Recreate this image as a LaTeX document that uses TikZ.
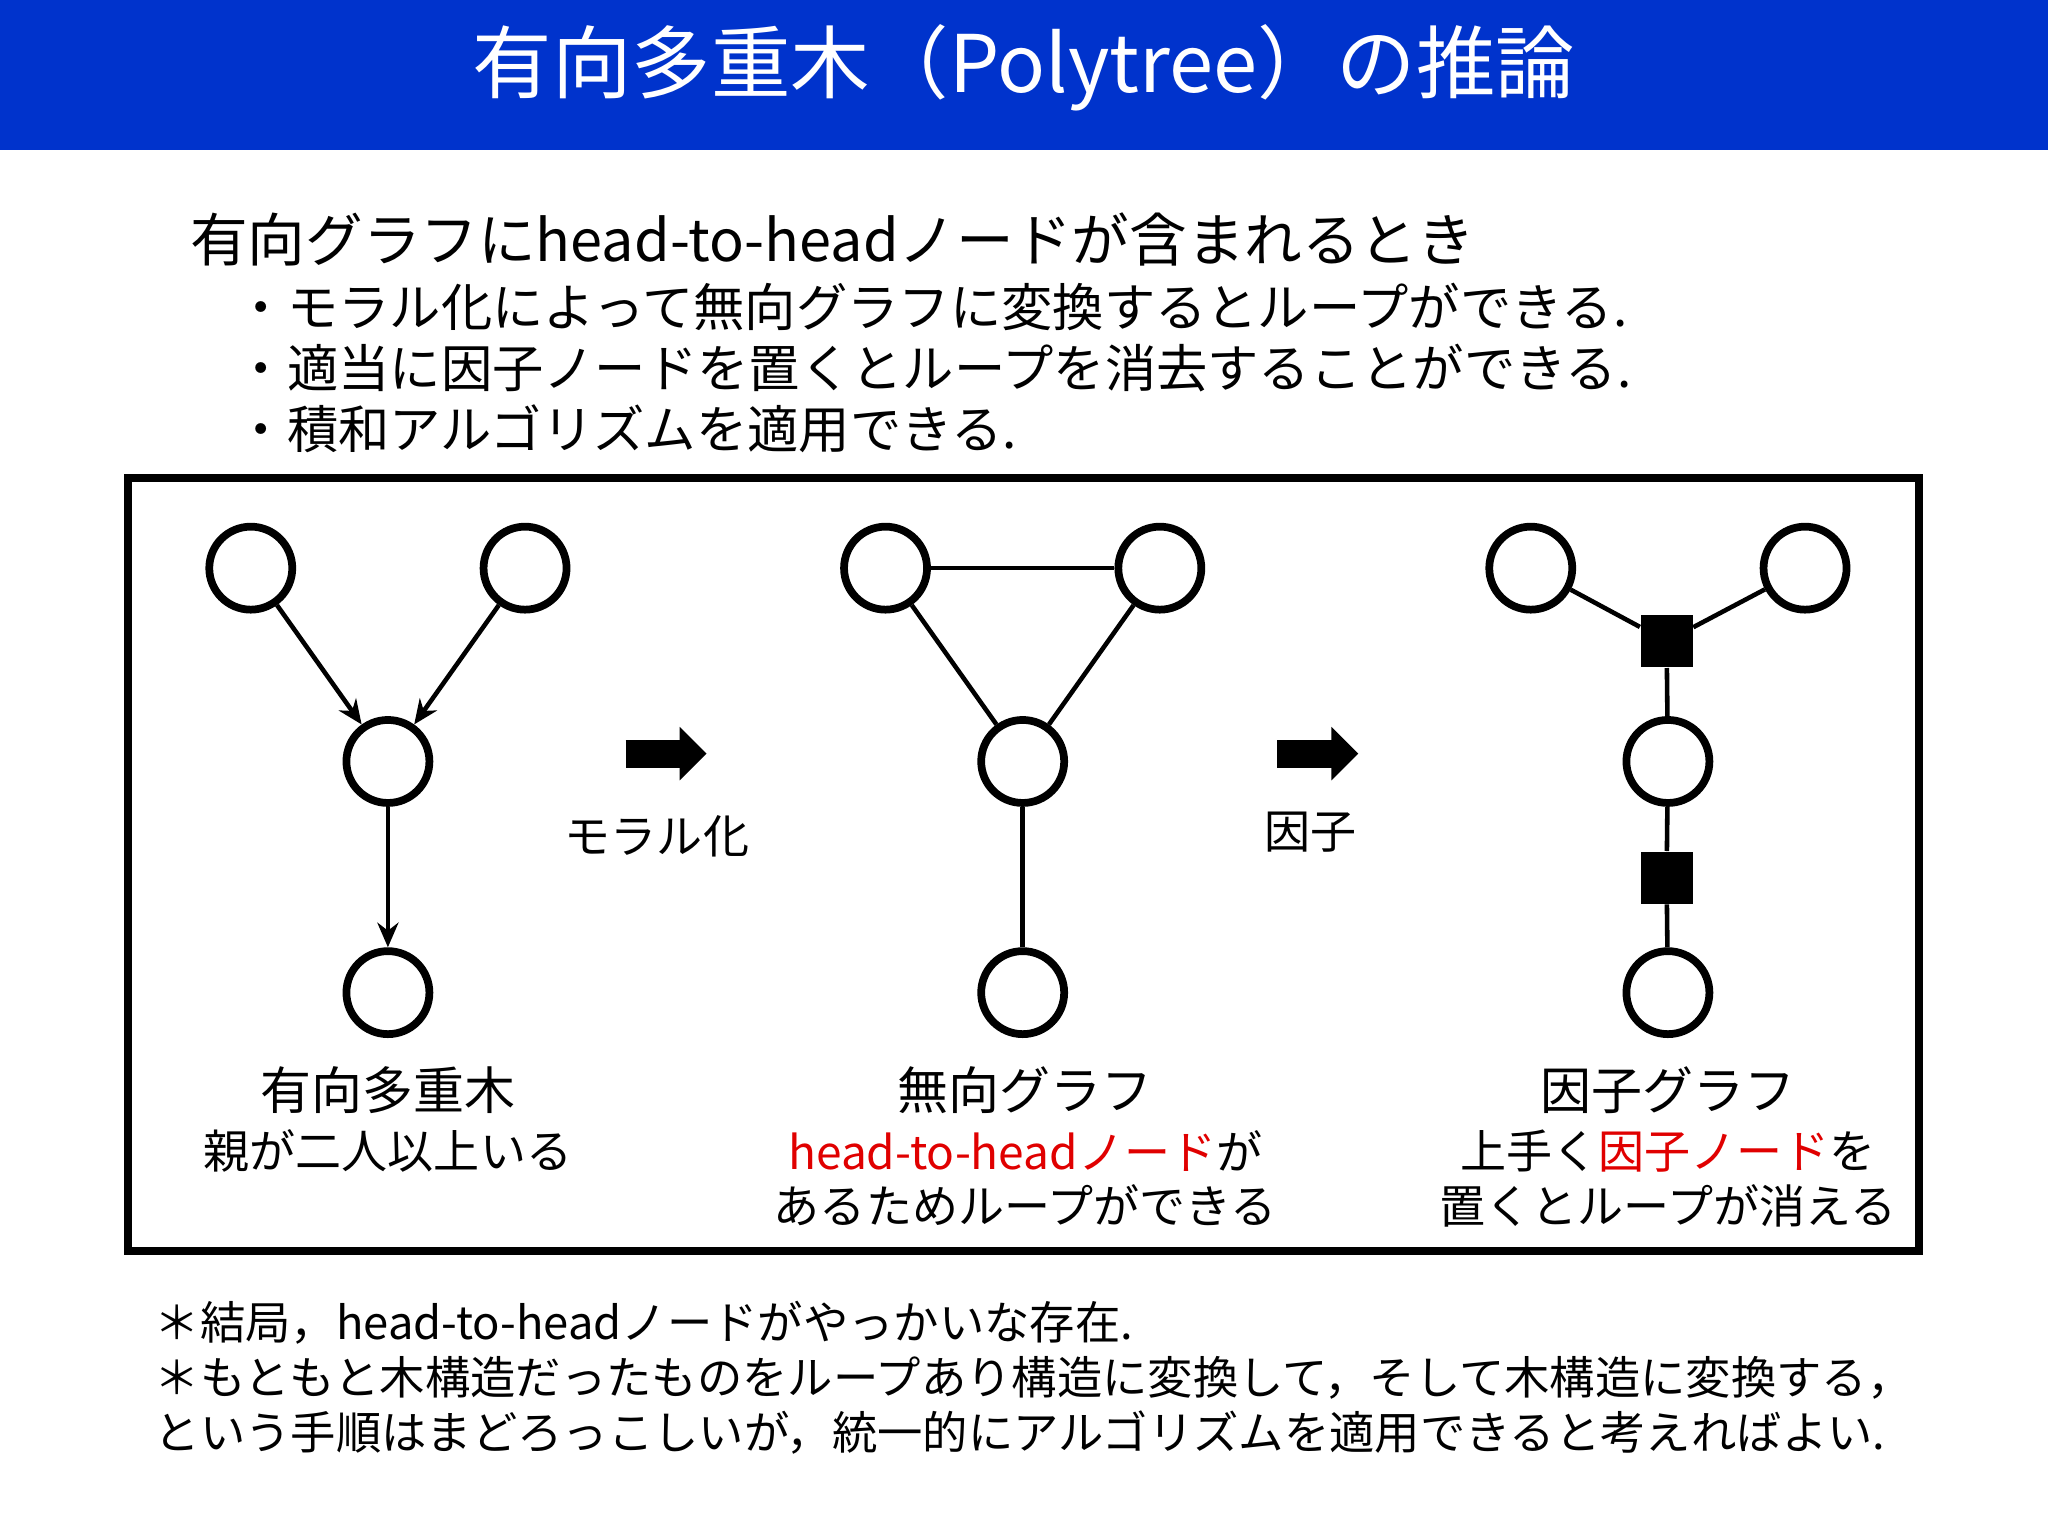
\documentclass[tikz,border=0pt]{standalone}
\usepackage{fontspec}
\setmainfont{Noto Sans CJK JP}
\usetikzlibrary{arrows.meta}
\definecolor{tblue}{HTML}{0033CC}
\definecolor{tred}{HTML}{E00000}
\tikzset{
 vnode/.style={circle,draw,line width=2.2pt,minimum size=0.83cm,inner sep=0pt},
 fnode/.style={rectangle,fill=black,minimum size=0.52cm,inner sep=0pt},
 edge/.style={line width=1.3pt},
 dedge/.style={line width=1.3pt,-{Stealth[length=7pt,width=6pt]}},
 body/.style={font=\fontsize{14.6}{17}\selectfont,anchor=west,inner sep=0pt},
 lab/.style={font=\fontsize{13.1}{16}\selectfont,inner sep=0pt},
 labt/.style={font=\fontsize{14.5}{17}\selectfont,inner sep=0pt},
 foot/.style={font=\fontsize{12.9}{15}\selectfont,anchor=west,inner sep=0pt},
 bigarrow/.style={line width=0.28cm,-{Triangle[length=0.27cm,width=0.52cm]}}
}
\begin{document}
\begin{tikzpicture}[x=0.013061cm,y=-0.013061cm]
\useasboundingbox (0,0) rectangle (1568,1176);
\fill[tblue] (0,0) rectangle (1568,115);
\node[text=white,font=\fontsize{22.6}{26}\selectfont] (title) at (784,52) {有向多重木（Polytree）の推論};
\node[body,font=\fontsize{16.4}{19}\selectfont] (l0) at (145,183) {有向グラフにhead-to-headノードが含まれるとき};
\node[body] (l1) at (180,235) {・モラル化によって無向グラフに変換するとループができる.};
\node[body] (l2) at (180,282) {・適当に因子ノードを置くとループを消去することができる.};
\node[body] (l3) at (180,328) {・積和アルゴリズムを適用できる.};
\draw[line width=2.2pt] (98,366) rectangle (1469,958);
% graph 1
\node[vnode] (a1) at (192,435) {};
\node[vnode] (b1) at (402,435) {};
\node[vnode] (c1) at (297,583) {};
\node[vnode] (d1) at (297,760) {};
\draw[dedge] (a1) -- (c1);
\draw[dedge] (b1) -- (c1);
\draw[dedge] (c1) -- (d1);
% arrow 1
\coordinate (p1) at (479,577); \coordinate (q1) at (541,577);
\draw[bigarrow] (p1) -- (q1);
\node[lab] (m1) at (503,640) {モラル化};
% graph 2
\node[vnode] (a2) at (678,435) {};
\node[vnode] (b2) at (888,435) {};
\node[vnode] (c2) at (783,583) {};
\node[vnode] (d2) at (783,760) {};
\draw[edge] (a2) -- (b2);
\draw[edge] (a2) -- (c2);
\draw[edge] (b2) -- (c2);
\draw[edge] (c2) -- (d2);
% arrow 2
\coordinate (p2) at (978,577); \coordinate (q2) at (1040,577);
\draw[bigarrow] (p2) -- (q2);
\node[lab] (m2) at (1003,637) {因子};
% graph 3
\node[vnode] (a3) at (1172,435) {};
\node[vnode] (b3) at (1382,435) {};
\node[vnode] (c3) at (1277,583) {};
\node[vnode] (d3) at (1277,760) {};
\node[fnode] (f1) at (1276,491) {};
\node[fnode] (f2) at (1276,672) {};
\draw[edge] (a3) -- (f1);
\draw[edge] (b3) -- (f1);
\draw[edge] (f1) -- (c3);
\draw[edge] (c3) -- (f2);
\draw[edge] (f2) -- (d3);
% labels
\node[labt] (t1) at (297,835) {有向多重木};
\node[lab] (s1) at (297,881) {親が二人以上いる};
\node[labt] (t2) at (785,835) {無向グラフ};
\node[lab] (s2) at (785,881) {\textcolor{tred}{head-to-headノード}が};
\node[lab] (u2) at (785,923) {あるためループができる};
\node[labt] (t3) at (1277,835) {因子グラフ};
\node[lab] (s3) at (1277,881) {上手く\textcolor{tred}{因子ノード}を};
\node[lab] (u3) at (1277,923) {置くとループが消える};
% footer
\node[foot] (n1) at (118,1013) {＊結局，head-to-headノードがやっかいな存在.};
\node[foot] (n2) at (118,1055) {＊もともと木構造だったものをループあり構造に変換して，そして木構造に変換する，};
\node[foot] (n3) at (118,1097) {という手順はまどろっこしいが，統一的にアルゴリズムを適用できると考えればよい.};
\end{tikzpicture}
\end{document}
